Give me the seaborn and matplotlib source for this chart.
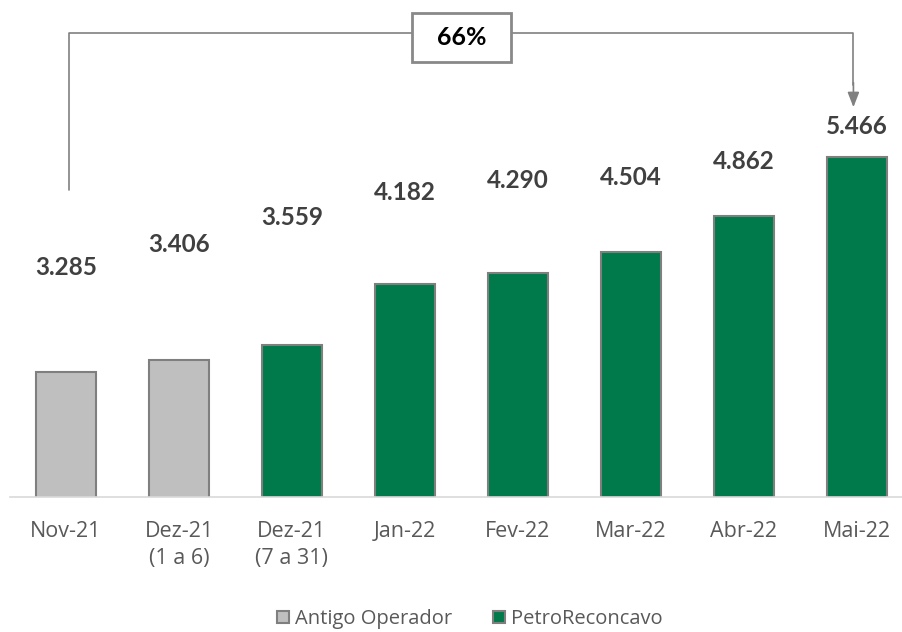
import matplotlib
matplotlib.use("Agg")
import matplotlib.pyplot as plt
from matplotlib.patches import Rectangle
import seaborn as sns
import pandas as pd

# ==========================================
# DATA
# ==========================================
categories = ["Nov-21", "Dez-21\n(1 a 6)", "Dez-21\n(7 a 31)", "Jan-22",
              "Fev-22", "Mar-22", "Abr-22", "Mai-22"]
values = [3.285, 3.406, 3.559, 4.182, 4.290, 4.504, 4.862, 5.466]
operators = ["Antigo Operador", "Antigo Operador", "PetroReconcavo", "PetroReconcavo",
             "PetroReconcavo", "PetroReconcavo", "PetroReconcavo", "PetroReconcavo"]
growth_label = "66%"

# label heights (data units) as placed in the original
label_pos = [4.34, 4.58, 4.85, 5.11, 5.23, 5.26, 5.42, 5.77]

df = pd.DataFrame({"mes": categories, "valor": values, "operador": operators})

palette = {"Antigo Operador": "#BFBFBF", "PetroReconcavo": "#007A4B"}

sns.set_style("white")
plt.rcParams["font.family"] = ["Open Sans", "DejaVu Sans"]

fig = plt.figure(figsize=(9.02, 6.32), dpi=100)
ax = fig.add_axes([9.5 / 902, 135 / 632, 892.5 / 902, 442 / 632])

sns.barplot(data=df, x="mes", y="valor", hue="operador", palette=palette,
            dodge=False, width=0.53, edgecolor="#7F7F7F", linewidth=1.5,
            saturation=1, ax=ax)

ax.set_xlim(-0.5, 7.4)
ax.set_ylim(2.017, 6.5)

# value labels
for i, (v, p) in enumerate(zip(values, label_pos)):
    ax.text(i, p, f"{v:.3f}", ha="center", va="center", fontsize=17.5,
            fontweight="bold", color="#404040", family=["Lato", "DejaVu Sans"])

# growth bracket
line_kw = dict(color="#808080", lw=1.2, clip_on=False)
ax.plot([0.03, 0.03, 6.97, 6.97], [5.13, 6.72, 6.72, 6.2], **line_kw)
ax.annotate("", xy=(6.97, 5.97), xytext=(6.97, 6.22),
            arrowprops=dict(arrowstyle="-|>,head_width=0.35,head_length=0.9",
                            color="#808080", lw=1.2, shrinkA=0, shrinkB=0),
            annotation_clip=False)
box = Rectangle((3.5 - 0.44, 6.677 - 0.245), 0.88, 0.49, fc="white",
                ec="#898989", lw=2, clip_on=False, zorder=3)
ax.add_patch(box)
ax.text(3.5, 6.68, growth_label, ha="center", va="center", fontsize=18,
        fontweight="bold", color="black", clip_on=False, zorder=4,
        family=["Lato", "DejaVu Sans"])

# axes styling
for s in ["left", "right", "top"]:
    ax.spines[s].set_visible(False)
ax.spines["bottom"].set_color("#D9D9D9")
ax.spines["bottom"].set_linewidth(1.2)
ax.set_yticks([])
ax.set_xlabel("")
ax.set_ylabel("")
ax.tick_params(axis="x", length=0, pad=17, labelsize=15.5, labelcolor="#595959")
for t in ax.get_xticklabels():
    t.set_linespacing(1.4)
    t.set_verticalalignment("top")

handles, labels = ax.get_legend_handles_labels()
ax.legend_.remove()
fig.legend(handles, labels, loc="center", bbox_to_anchor=(470 / 902, 1 - 619 / 632),
           ncol=2, frameon=False, fontsize=14.5, labelcolor="#595959",
           handlelength=0.6, handleheight=0.6, handletextpad=0.3, columnspacing=2.0)

fig.savefig("out.png", dpi=100)
